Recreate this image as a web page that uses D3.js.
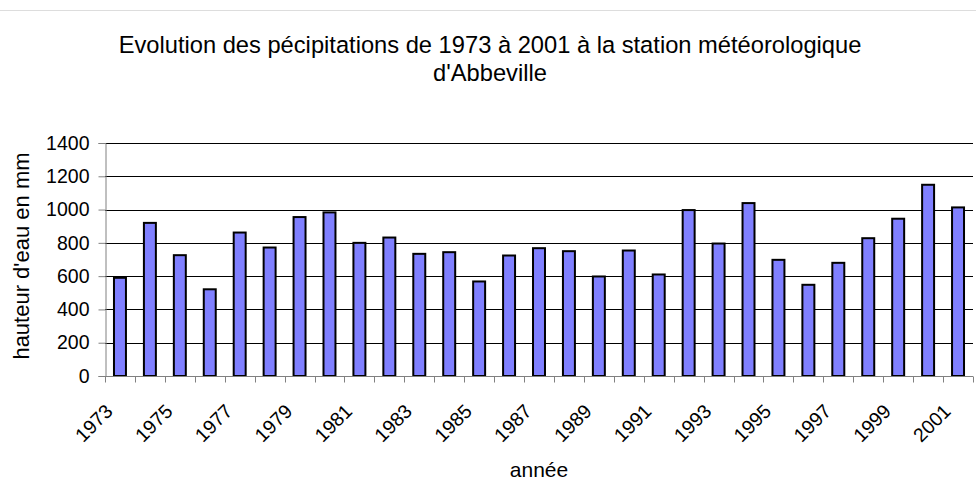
<!DOCTYPE html>
<html>
<head>
<meta charset="utf-8">
<title>Précipitations Abbeville</title>
<script src="https://d3js.org/d3.v7.min.js"></script>
<style>
  body { margin: 0; background: white; }
  svg text { font-family: "Liberation Sans", Arial, sans-serif; fill: #000; }
</style>
</head>
<body>
<svg id="chart" width="976" height="499"></svg>
<script>
// data
const years = d3.range(1973, 2002);
const rain = [590, 920, 726, 521, 862, 772, 955, 983, 800, 832,
              734, 744, 568, 724, 768, 750, 598, 754, 610, 997,
              796, 1039, 698, 548, 680, 828, 945, 1149, 1013];
const yTicks = [0, 200, 400, 600, 800, 1000, 1200, 1400];
const titleLines = ["Evolution des pécipitations de 1973 à 2001 à la station météorologique", "d'Abbeville"];

const svg = d3.select("#chart");
const plotL = 105, plotR = 973, plotT = 143, plotB = 376;

// light frame line at the top
svg.append("line")
  .attr("x1", 0).attr("x2", 976).attr("y1", 10.5).attr("y2", 10.5)
  .attr("stroke", "#ddd");

svg.append("text")
  .attr("x", 490).attr("y", 53)
  .attr("text-anchor", "middle")
  .style("font-size", "23.7px")
  .selectAll("tspan").data(titleLines).join("tspan")
    .attr("x", 490).attr("dy", (d, i) => i ? 28 : 0)
    .text(d => d);

const x = d3.scaleBand(years, [plotL, plotR]).paddingInner(0.6).paddingOuter(0.3);
const y = d3.scaleLinear([0, 1400], [plotB, plotT]);

// grid
svg.append("g").selectAll("line").data(yTicks.slice(1)).join("line")
  .attr("x1", plotL).attr("x2", plotR)
  .attr("y1", d => Math.round(y(d)) + 0.5).attr("y2", d => Math.round(y(d)) + 0.5)
  .attr("stroke", "#000");

// bars
svg.append("g").selectAll("rect").data(years).join("rect")
  .attr("x", d => x(d))
  .attr("width", x.bandwidth())
  .attr("y", (d, i) => y(rain[i]))
  .attr("height", (d, i) => y(0) - y(rain[i]))
  .attr("fill", "#8080ff")
  .attr("stroke", "#000")
  .attr("stroke-width", 2);

// y axis
const yAxis = svg.append("g")
  .attr("transform", `translate(${plotL + 0.5},0)`)
  .call(d3.axisLeft(y).tickValues(yTicks).tickFormat(d3.format("d")).tickSize(7).tickPadding(9));
yAxis.selectAll("line, path").attr("stroke", "#808080");
yAxis.selectAll("text").style("font-size", "19.5px").attr("font-family", null);

// x axis, ticks at category boundaries
const step = x.step();
const xAxis = svg.append("g").attr("transform", `translate(0,${Math.round(plotB) + 0.5})`);
xAxis.append("line").attr("x1", plotL).attr("x2", plotR).attr("stroke", "#808080");
xAxis.selectAll(".tk").data(d3.range(years.length + 1)).join("line")
  .attr("class", "tk")
  .attr("x1", i => Math.round(plotL + i * step) + 0.5).attr("x2", i => Math.round(plotL + i * step) + 0.5)
  .attr("y1", 0).attr("y2", 6)
  .attr("stroke", "#808080");
xAxis.selectAll("text").data(years.filter((d, i) => i % 2 === 0)).join("text")
  .attr("text-anchor", "end")
  .attr("transform", d => `translate(${x(d) + x.bandwidth() / 2 - 6},${36}) rotate(-45)`)
  .style("font-size", "19.5px")
  .text(d => d);

svg.append("text")
  .attr("x", 539).attr("y", 477)
  .attr("text-anchor", "middle")
  .style("font-size", "21px")
  .text("année");

svg.append("text")
  .attr("transform", `translate(29,256) rotate(-90)`)
  .attr("text-anchor", "middle")
  .style("font-size", "22px")
  .text("hauteur d'eau en mm");
</script>
</body>
</html>
